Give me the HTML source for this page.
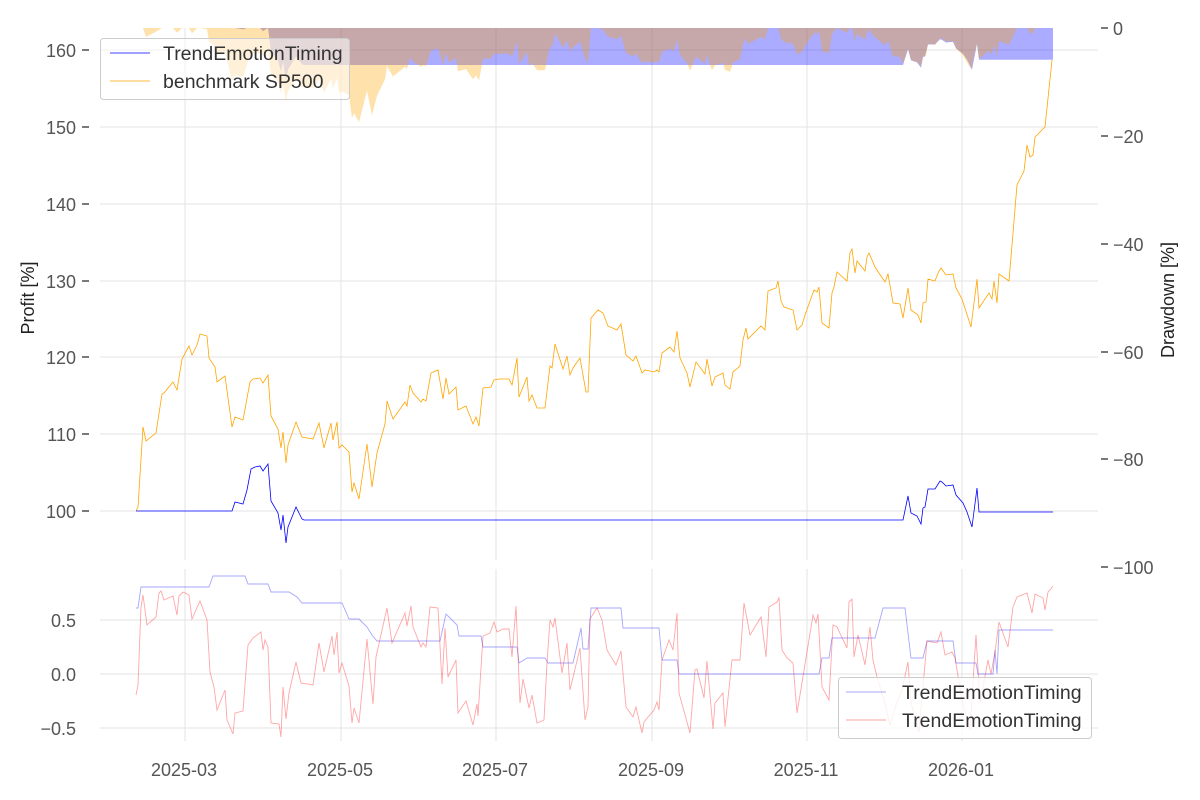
<!DOCTYPE html>
<html><head><meta charset="utf-8"><style>
html,body{margin:0;padding:0;background:#fff;}
svg{display:block;font-family:"Liberation Sans",sans-serif;}
</style></head><body>
<svg id="s" width="1200" height="800" xmlns="http://www.w3.org/2000/svg">
<defs>
<clipPath id="cu"><rect x="100" y="28" width="998" height="532"/></clipPath>
</defs>
<g stroke="#e3e3e3" stroke-width="1">
<line x1="185" y1="28" x2="185" y2="560"/><line x1="341" y1="28" x2="341" y2="560"/><line x1="496" y1="28" x2="496" y2="560"/><line x1="652" y1="28" x2="652" y2="560"/><line x1="807" y1="28" x2="807" y2="560"/><line x1="962" y1="28" x2="962" y2="560"/>
<line x1="185" y1="569" x2="185" y2="741"/><line x1="341" y1="569" x2="341" y2="741"/><line x1="496" y1="569" x2="496" y2="741"/><line x1="652" y1="569" x2="652" y2="741"/><line x1="807" y1="569" x2="807" y2="741"/><line x1="962" y1="569" x2="962" y2="741"/>
<line x1="100" y1="50" x2="1098" y2="50"/><line x1="100" y1="127" x2="1098" y2="127"/><line x1="100" y1="204" x2="1098" y2="204"/><line x1="100" y1="281" x2="1098" y2="281"/><line x1="100" y1="357" x2="1098" y2="357"/><line x1="100" y1="434" x2="1098" y2="434"/><line x1="100" y1="511" x2="1098" y2="511"/>
<line x1="100" y1="620" x2="1098" y2="620"/><line x1="100" y1="674" x2="1098" y2="674"/><line x1="100" y1="728" x2="1098" y2="728"/>
</g>
<g id="fills" clip-path="url(#cu)"></g>
<g id="lines"></g>
<g font-size="18" fill="#555" text-anchor="end">
<text x="76" y="57">160</text><text x="76" y="134">150</text><text x="76" y="211">140</text><text x="76" y="288">130</text><text x="76" y="364">120</text><text x="76" y="441">110</text><text x="76" y="518">100</text>
<text x="76" y="627">0.5</text><text x="76" y="681">0.0</text><text x="76" y="735">−0.5</text>
</g>
<g stroke="#333" stroke-width="1.3">
<line x1="82" y1="50" x2="89" y2="50"/><line x1="82" y1="127" x2="89" y2="127"/><line x1="82" y1="204" x2="89" y2="204"/><line x1="82" y1="281" x2="89" y2="281"/><line x1="82" y1="357" x2="89" y2="357"/><line x1="82" y1="434" x2="89" y2="434"/><line x1="82" y1="511" x2="89" y2="511"/>
<line x1="1101" y1="28" x2="1108" y2="28"/><line x1="1101" y1="136" x2="1108" y2="136"/><line x1="1101" y1="244" x2="1108" y2="244"/><line x1="1101" y1="352" x2="1108" y2="352"/><line x1="1101" y1="459" x2="1108" y2="459"/><line x1="1101" y1="567" x2="1108" y2="567"/>
</g>
<g font-size="18" fill="#555">
<text x="1113" y="35">0</text><text x="1113" y="143">−20</text><text x="1113" y="251">−40</text><text x="1113" y="359">−60</text><text x="1113" y="466">−80</text><text x="1113" y="574">−100</text>
</g>
<g font-size="18" fill="#555" text-anchor="middle">
<text x="184" y="776">2025-03</text><text x="340" y="776">2025-05</text><text x="495" y="776">2025-07</text><text x="651" y="776">2025-09</text><text x="806" y="776">2025-11</text><text x="961" y="776">2026-01</text>
</g>
<text font-size="18" fill="#222" text-anchor="middle" transform="translate(34,298) rotate(-90)">Profit [%]</text>
<text font-size="18" fill="#222" text-anchor="middle" transform="translate(1174,300) rotate(-90)">Drawdown [%]</text>
<g>
<rect x="100.5" y="38.5" width="249" height="61" rx="3" fill="#fff" fill-opacity="0.55" stroke="#ccc"/>
<line x1="110" y1="53" x2="150" y2="53" stroke="#0000ff" stroke-width="0.8"/>
<line x1="110" y1="81" x2="150" y2="81" stroke="#ffa500" stroke-width="0.8"/>
<text x="163" y="60" font-size="19.5" fill="#333">TrendEmotionTiming</text>
<text x="163" y="88" font-size="19.5" fill="#333">benchmark SP500</text>
</g>
<g>
<rect x="838.5" y="677.5" width="253" height="61" rx="3" fill="#fff" fill-opacity="0.8" stroke="#ccc"/>
<line x1="846" y1="692" x2="886" y2="692" stroke="#0000ff" stroke-opacity="0.35"/>
<line x1="846" y1="720" x2="886" y2="720" stroke="#ff0000" stroke-opacity="0.35"/>
<text x="902" y="699" font-size="19.5" fill="#333">TrendEmotionTiming</text>
<text x="902" y="727" font-size="19.5" fill="#333">TrendEmotionTiming</text>
</g>
</svg>
<script>
var bench=[[136,511],[138,507],[143,427],[146,441],[156,433],[162,394],[164,393],[173,382],[177,390],[182,359],[189,346],[192,355],[197,345],[200,334],[207,336],[209,358],[215,367],[217,382],[225,376],[232,427],[235,417],[243,420],[250,382],[253,379],[260,378],[263,383],[268,375],[271,416],[278,429],[281,448],[283,432],[286,463],[288,445],[296,422],[302,437],[313,439],[319,423],[324,448],[331,423],[333,440],[337,422],[339,448],[342,445],[349,452],[352,492],[354,483],[359,499],[367,444],[372,487],[377,453],[385,424],[387,401],[393,419],[405,402],[407,406],[410,385],[413,393],[421,402],[423,399],[426,401],[431,373],[438,370],[443,399],[446,378],[449,394],[456,387],[458,410],[466,406],[473,424],[476,417],[479,426],[483,388],[491,387],[494,380],[499,379],[509,379],[512,385],[517,358],[519,397],[527,377],[529,401],[532,395],[537,408],[545,408],[550,366],[552,368],[555,344],[563,369],[567,356],[570,375],[573,368],[580,358],[586,392],[588,392],[591,318],[598,310],[603,313],[608,326],[617,330],[621,324],[626,355],[633,361],[636,356],[642,373],[645,370],[654,372],[657,370],[659,372],[662,353],[670,347],[674,352],[677,331],[680,358],[687,373],[690,387],[696,362],[705,374],[707,359],[712,386],[715,377],[723,373],[725,385],[730,389],[733,372],[740,366],[743,340],[746,328],[748,339],[761,326],[765,330],[768,291],[776,288],[778,281],[781,301],[784,307],[793,310],[797,330],[802,325],[805,315],[814,290],[817,292],[819,287],[822,323],[829,328],[832,293],[834,287],[837,272],[847,281],[850,253],[852,249],[855,273],[857,261],[865,271],[867,257],[869,253],[875,267],[885,282],[888,274],[893,303],[900,304],[903,318],[908,288],[911,310],[918,315],[921,323],[923,303],[926,302],[928,279],[935,281],[938,273],[941,268],[946,275],[953,274],[956,288],[962,299],[971,327],[977,279],[979,308],[989,293],[992,299],[994,281],[997,303],[999,274],[1009,281],[1017,185],[1024,171],[1027,145],[1030,157],[1033,155],[1035,137],[1045,127],[1052,60]];
var strat=[[136,511],[232,511],[235,502],[243,504],[247,490],[251,469],[255,467],[260,466],[263,471],[268,464],[271,501],[278,513],[281,530],[283,515],[286,543],[288,527],[296,507],[302,519],[304,520],[903,520],[908,496],[911,513],[917,516],[921,524],[923,508],[925,507],[928,489],[935,489],[940,481],[942,482],[946,486],[953,485],[956,495],[963,503],[967,512],[972,527],[977,488],[979,512],[1053,512]];
var lb=[[136,608],[138,608],[141,587],[209,587],[213,576],[245,576],[248,584],[268,584],[271,592],[289,592],[297,597],[302,603],[342,603],[349,619],[359,619],[367,627],[372,635],[377,641],[440,641],[446,614],[457,625],[459,636],[481,636],[483,647],[517,647],[519,663],[527,658],[545,658],[548,663],[573,663],[581,628],[583,649],[588,649],[591,608],[621,608],[623,628],[659,628],[662,660],[677,660],[679,674],[819,674],[822,658],[829,658],[832,638],[875,638],[883,608],[905,608],[911,658],[923,658],[927,641],[953,641],[956,663],[976,663],[978,674],[993,674],[995,650],[997,674],[999,630],[1053,630]];
var lr=[[136,695],[138,685],[141,607],[143,595],[147,625],[156,617],[159,593],[161,591],[164,600],[173,596],[177,615],[179,596],[183,592],[189,595],[192,619],[200,601],[207,620],[210,672],[214,687],[217,710],[225,690],[227,720],[233,734],[235,713],[243,711],[248,645],[253,638],[261,632],[263,650],[265,640],[268,647],[271,723],[279,724],[281,737],[283,687],[286,719],[289,693],[296,662],[301,683],[313,685],[319,643],[324,672],[332,636],[334,655],[337,632],[339,673],[342,663],[349,686],[352,723],[354,708],[359,723],[367,639],[373,704],[376,657],[387,608],[392,643],[405,613],[407,626],[411,606],[413,627],[421,647],[423,643],[426,647],[430,607],[438,608],[442,684],[445,628],[448,677],[456,660],[458,713],[466,701],[473,725],[477,704],[478,716],[483,636],[490,633],[494,622],[497,632],[503,629],[509,629],[512,657],[516,606],[520,703],[523,679],[529,708],[532,695],[537,723],[544,720],[547,663],[550,620],[553,627],[555,618],[562,673],[567,643],[570,690],[580,648],[585,720],[588,707],[590,619],[597,608],[602,620],[607,650],[616,665],[621,651],[626,707],[633,717],[636,707],[642,733],[644,722],[654,710],[657,702],[659,710],[662,660],[669,640],[673,650],[677,613],[679,693],[690,733],[695,670],[697,669],[704,698],[707,661],[713,729],[715,703],[723,693],[725,727],[732,660],[740,660],[744,603],[750,635],[761,617],[766,657],[769,607],[777,602],[779,598],[782,650],[787,658],[793,663],[797,713],[800,695],[813,615],[816,623],[818,614],[822,687],[829,700],[833,625],[837,627],[847,648],[849,602],[852,599],[854,657],[858,635],[865,665],[870,627],[873,660],[877,677],[884,700],[890,725],[896,705],[902,690],[908,662],[911,703],[919,732],[927,641],[937,643],[941,632],[945,655],[952,652],[955,658],[962,700],[970,730],[976,635],[980,703],[988,660],[991,674],[995,652],[999,622],[1008,647],[1013,607],[1017,597],[1027,593],[1032,613],[1035,594],[1043,598],[1045,610],[1048,592],[1050,590],[1053,586]];
function pts(a){return a.map(function(p){return p[0]+","+p[1]}).join(" ");}
function ddPoly(a){
  var m=-1e9,out=[];
  a.forEach(function(p){var v=100+(511-p[1])/7.68;if(v>m)m=v;var dd=(v/m-1)*100;out.push([p[0],(28-dd*5.39).toFixed(1)]);});
  return a[0][0]+",28 "+pts(out)+" "+a[a.length-1][0]+",28";
}
var NS="http://www.w3.org/2000/svg";
function el(g,tag,attrs){var e=document.createElementNS(NS,tag);for(var k in attrs)e.setAttribute(k,attrs[k]);document.getElementById(g).appendChild(e);}
el("fills","polygon",{points:ddPoly(strat),fill:"#0000ff","fill-opacity":"0.33"});
el("fills","polygon",{points:ddPoly(bench),fill:"#ffa500","fill-opacity":"0.33"});
el("lines","polyline",{points:pts(bench),fill:"none",stroke:"#ffa500","stroke-width":"0.8"});
el("lines","polyline",{points:pts(strat),fill:"none",stroke:"#0000ff","stroke-width":"0.8"});
el("lines","polyline",{points:pts(lb),fill:"none",stroke:"#0000ff","stroke-opacity":"0.35","stroke-width":"0.9"});
el("lines","polyline",{points:pts(lr),fill:"none",stroke:"#ff0000","stroke-opacity":"0.35","stroke-width":"0.9"});
</script>
</body></html>
